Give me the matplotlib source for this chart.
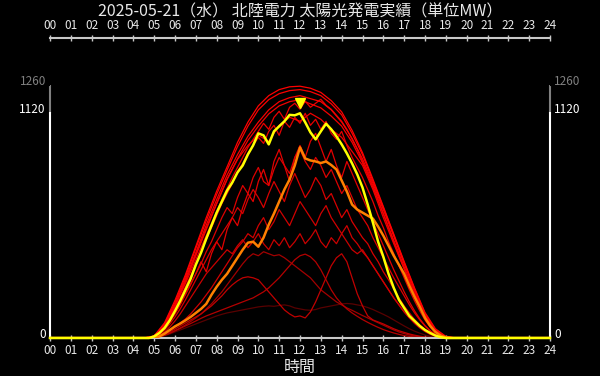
import numpy as np
import matplotlib
matplotlib.use('Agg')
import matplotlib.pyplot as plt
from matplotlib.transforms import offset_copy

plt.rcParams['font.family'] = ['Noto Sans CJK JP', 'DejaVu Sans']

title = '2025-05-21（水） 北陸電力 太陽光発電実績（単位MW）'
xlabel = '時間'

# quarter-hour points 04:45 .. 19:15 (rows of 10: 04:45-07:00, 07:15-09:30, ...)
hours_q = [4.75, 5.0, 5.25, 5.5, 5.75, 6.0, 6.25, 6.5, 6.75, 7.0,
           7.25, 7.5, 7.75, 8.0, 8.25, 8.5, 8.75, 9.0, 9.25, 9.5,
           9.75, 10.0, 10.25, 10.5, 10.75, 11.0, 11.25, 11.5, 11.75, 12.0,
           12.25, 12.5, 12.75, 13.0, 13.25, 13.5, 13.75, 14.0, 14.25, 14.5,
           14.75, 15.0, 15.25, 15.5, 15.75, 16.0, 16.25, 16.5, 16.75, 17.0,
           17.25, 17.5, 17.75, 18.0, 18.25, 18.5, 18.75, 19.0, 19.25]
# half-hour points 04:30 .. 19:30 for the clear days
hours_h = [4.5, 5.0, 5.5, 6.0, 6.5, 7.0, 7.5, 8.0, 8.5, 9.0, 9.5, 10.0, 10.5,
           11.0, 11.5, 12.0, 12.5, 13.0, 13.5, 14.0, 14.5, 15.0, 15.5, 16.0,
           16.5, 17.0, 17.5, 18.0, 18.5, 19.0, 19.5]

today = [0, 8, 25, 50, 88, 135, 185, 240, 295, 365,
         425, 495, 560, 625, 680, 735, 775, 825, 860, 915,
         960, 1020, 1010, 965, 1030, 1055, 1080, 1112, 1110, 1120,
         1075, 1025, 990, 1030, 1068, 1040, 1005, 965, 920, 870,
         815, 750, 665, 575, 480, 405, 320, 250, 190, 150,
         110, 85, 60, 40, 25, 12, 4, 0, 0]

yesterday = [0, 0, 8, 22, 40, 58, 72, 88, 105, 125,
             145, 170, 215, 255, 290, 320, 360, 400, 440, 475,
             480, 455, 500, 565, 620, 680, 740, 790, 860, 950,
             895, 885, 880, 872, 880, 862, 840, 785, 730, 665,
             640, 625, 610, 595, 555, 510, 460, 410, 365, 320,
             260, 205, 155, 100, 60, 30, 12, 3, 0]

# cloudy days of the month (quarter-hour), darkest first
cloudy_days = [
    [0, 2, 6, 12, 20, 30, 40, 50, 60, 70,
     80, 90, 100, 110, 118, 125, 130, 135, 140, 145,
     150, 155, 158, 160, 158, 162, 165, 160, 150, 145,
     140, 138, 142, 150, 155, 160, 165, 170, 172, 170,
     165, 160, 152, 142, 130, 118, 105, 90, 75, 60,
     46, 34, 24, 15, 8, 4, 1, 0, 0],
    [0, 2, 6, 14, 24, 36, 50, 65, 82, 100,
     120, 145, 170, 200, 230, 265, 300, 335, 370, 400,
     420, 410, 430, 420, 410, 415, 400, 380, 360, 340,
     320, 300, 270, 240, 220, 200, 180, 165, 150, 138,
     125, 112, 100, 88, 76, 64, 52, 40, 30, 22,
     15, 10, 6, 3, 1, 0, 0, 0, 0],
    [0, 2, 6, 14, 24, 36, 48, 60, 72, 85,
     98, 110, 120, 130, 140, 150, 160, 170, 180, 190,
     200, 215, 230, 250, 275, 300, 330, 360, 390, 410,
     418, 405, 380, 340, 290, 240, 200, 170, 145, 125,
     108, 92, 78, 65, 53, 42, 33, 25, 18, 12,
     8, 5, 3, 1, 0, 0, 0, 0, 0],
    [0, 2, 8, 18, 30, 45, 60, 75, 90, 105,
     120, 140, 160, 185, 210, 240, 265, 285, 300, 305,
     300, 290, 260, 230, 200, 170, 140, 120, 105, 110,
     100, 130, 180, 240, 300, 360, 400, 420, 380, 300,
     220, 160, 110, 90, 80, 70, 58, 46, 36, 28,
     20, 14, 9, 5, 3, 1, 0, 0, 0],
    [0, 4, 14, 30, 55, 85, 120, 160, 200, 240,
     280, 320, 350, 380, 410, 440, 420, 460, 490, 450,
     480, 520, 470, 440, 490, 460, 500, 450, 480, 520,
     470, 500, 540, 480, 450, 500, 470, 520, 480, 440,
     420, 440, 400, 360, 320, 280, 240, 200, 165, 130,
     100, 72, 50, 32, 18, 9, 3, 0, 0],
    [0, 3, 10, 22, 38, 55, 75, 95, 120, 150,
     180, 215, 250, 290, 330, 370, 410, 450, 480, 520,
     500, 560, 600, 540, 580, 640, 600, 560, 620, 680,
     640, 600, 560, 620, 660, 600, 560, 520, 560, 500,
     470, 430, 400, 360, 320, 280, 240, 200, 165, 130,
     100, 75, 52, 34, 20, 10, 3, 0, 0],
    [0, 5, 18, 40, 70, 105, 145, 190, 240, 290,
     340, 390, 440, 480, 520, 560, 600, 650, 620, 690,
     740, 700, 650, 720, 780, 730, 680, 760, 820, 760,
     700, 740, 800, 760, 690, 720, 660, 600, 640, 580,
     540, 500, 470, 420, 380, 330, 290, 245, 200, 160,
     125, 92, 65, 42, 25, 12, 4, 0, 0],
    [0, 6, 20, 45, 80, 120, 165, 215, 265, 320,
     370, 430, 480, 540, 600, 650, 620, 700, 760, 720,
     800, 850, 780, 760, 840, 900, 860, 820, 900, 940,
     880, 840, 900, 860, 800, 840, 780, 720, 760, 700,
     640, 600, 560, 500, 450, 400, 350, 300, 255, 210,
     165, 125, 90, 60, 35, 18, 6, 1, 0],
    [0, 8, 25, 50, 85, 125, 170, 220, 270, 320,
     380, 330, 420, 480, 440, 540, 600, 560, 650, 720,
     680, 780, 840, 760, 880, 940, 860, 780, 900, 960,
     900, 980, 1020, 950, 880, 940, 860, 800, 880, 820,
     760, 700, 640, 580, 520, 460, 400, 340, 285, 230,
     180, 135, 95, 62, 36, 18, 6, 1, 0],
    [0, 10, 30, 60, 100, 150, 200, 255, 310, 370,
     430, 490, 550, 610, 670, 720, 770, 830, 870, 920,
     960, 1000, 970, 1030, 1060, 1010, 1080, 1050, 1100, 1070,
     1120, 1060, 1090, 1040, 1080, 1020, 990, 1030, 960, 900,
     850, 800, 740, 680, 610, 550, 480, 420, 360, 300,
     240, 185, 135, 90, 55, 28, 10, 2, 0],
    [0, 12, 35, 68, 110, 160, 215, 272, 330, 390,
     450, 510, 570, 630, 690, 745, 800, 850, 900, 950,
     990, 1030, 1070, 1040, 1100, 1130, 1090, 1150, 1170, 1140,
     1180, 1150, 1170, 1190, 1160, 1140, 1110, 1080, 1040, 990,
     940, 880, 820, 760, 690, 620, 550, 480, 410, 345,
     280, 220, 165, 115, 72, 38, 14, 3, 0],
]

# clear / near-clear days (half-hour)
clear_days = [
    [0, 6, 60, 160, 280, 410, 540, 670, 790, 890, 960, 1010, 980, 1060, 1100,
     1080, 1120, 1090, 1040, 1000, 930, 860, 740, 600, 470, 345, 220, 110, 35, 4, 0],
    [0, 7, 62, 162, 284, 416, 548, 670, 792, 893, 985, 1056, 1117, 1157, 1178,
     1188, 1167, 1147, 1106, 1056, 975, 873, 751, 619, 487, 355, 228, 112, 37, 5, 0],
    [0, 8, 66, 167, 294, 426, 563, 690, 812, 914, 1005, 1076, 1137, 1178, 1198,
     1208, 1193, 1178, 1137, 1076, 995, 893, 771, 639, 508, 370, 239, 117, 39, 5, 0],
    [0, 8, 71, 178, 305, 447, 584, 716, 837, 954, 1056, 1137, 1188, 1218, 1233,
     1238, 1228, 1208, 1167, 1112, 1020, 914, 782, 650, 513, 376, 244, 122, 41, 6, 0],
    [0, 10, 76, 188, 315, 457, 600, 732, 853, 975, 1076, 1157, 1208, 1238,
     1252, 1255, 1245, 1224, 1183, 1127, 1035, 924, 792, 655, 518, 381, 249,
     127, 46, 8, 0],
]

hour_ticks = list(range(0, 25))
y_ticks = [0, 1120, 1260]


def full_day(hrs, vals):
    return [0] + list(hrs) + [24], [0] + list(vals) + [0]


fig = plt.figure(figsize=(6, 3.76), dpi=100, facecolor='black')
ax = fig.add_axes([50 / 600, 1 - 338 / 376, 500 / 600, (338 - 85.2) / 376])
ax.set_facecolor('black')

past = [(hours_q, v) for v in cloudy_days] + [(hours_h, v) for v in clear_days]
n = len(past)
for i, (hrs, vals) in enumerate(past):
    shade = 0.35 + 0.65 * (i / (n - 1)) ** 0.3
    x, y = full_day(hrs, vals)
    ax.plot(x, y, color=(shade, 0, 0), lw=0.9, zorder=2)

x, y = full_day(hours_q, yesterday)
ax.plot(x, y, color='#ff8000', lw=1.8, zorder=3)
x, y = full_day(hours_q, today)
ax.plot(x, y, color='#ffff00', lw=1.8, zorder=4, clip_on=False)

# peak marker above today's maximum
imax = int(np.argmax(today))
trans = offset_copy(ax.transData, fig=fig, x=0, y=10, units='dots')
ax.plot(hours_q[imax], today[imax], marker='v', color='#ffff00', ms=7,
        transform=trans, zorder=5, clip_on=False)

ax.set_xlim(0, 24)
ax.set_ylim(0, 1260)

grey = '#c8c8c8'
ax.spines['bottom'].set_color(grey)
ax.spines['bottom'].set_linewidth(1.5)
ax.spines['top'].set_color(grey)
ax.spines['top'].set_linewidth(1.5)
ax.spines['top'].set_position(('outward', 34))
for side in ['left', 'right']:
    ax.spines[side].set_color('white')
    ax.spines[side].set_linewidth(1.5)
    ax.spines[side].set_bounds(0, y_ticks[1])
ax.vlines([0, 24], y_ticks[1], y_ticks[2], colors='#808080', lw=1.5,
          clip_on=False, zorder=1)

ax.set_xticks(hour_ticks)
ax.set_xticklabels([f'{h:02d}' for h in hour_ticks])
ax.tick_params(axis='x', top=True, labeltop=True, bottom=True,
               labelbottom=True, direction='inout', length=4, width=1,
               color=grey, labelcolor='#e8e8e8', labelsize=8.5, pad=2)

ax.set_yticks(y_ticks)
ax.set_yticklabels([str(v) for v in y_ticks])
ax.tick_params(axis='y', left=True, right=True, labelleft=True,
               labelright=True, direction='out', length=2, width=1.5,
               labelsize=8.5, pad=1)
for t, v in zip(ax.yaxis.get_major_ticks(), y_ticks):
    c = '#808080' if v == y_ticks[2] else 'white'
    for part in (t.tick1line, t.tick2line):
        part.set_color(c)
    for lbl in (t.label1, t.label2):
        lbl.set_color(c)
        lbl.set_verticalalignment('baseline')

ax.set_xlabel(xlabel, color='#e8e8e8', fontsize=11.5, labelpad=2)
fig.text(0.5, 1 - 12 / 376, title, ha='center', va='center',
         fontsize=11.5, color='#e8e8e8')

fig.savefig('out.png', dpi=100, facecolor='black')
